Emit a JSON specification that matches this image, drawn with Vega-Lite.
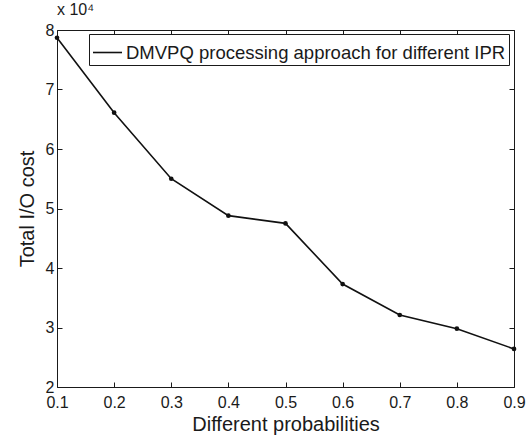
{
  "$schema": "https://vega.github.io/schema/vega-lite/v6.json",
  "autosize": "none",
  "width": 457,
  "height": 357,
  "padding": {"left": 57, "top": 30, "right": 18, "bottom": 50},
  "background": "white",
  "title": {"text": "x 10⁴", "anchor": "start", "frame": "group", "offset": 4, "fontSize": 16, "fontWeight": "normal", "font": "Liberation Sans", "color": "#1a1a1a"},
  "config": {
    "view": {"stroke": "#1a1a1a", "strokeWidth": 1},
    "font": "Liberation Sans",
    "axis": {"domain": false, "grid": false, "labelFlush": false, "labelOverlap": false, "tickColor": "#1a1a1a", "tickSize": -5, "labelColor": "#1a1a1a", "labelFontSize": 16, "titleFontSize": 20, "titleFontWeight": "normal", "titleColor": "#1a1a1a"}
  },
  "data": {"values": [
    {"p": 0.1, "cost": 78700, "series": "DMVPQ processing approach for different IPR"},
    {"p": 0.2, "cost": 66100, "series": "DMVPQ processing approach for different IPR"},
    {"p": 0.3, "cost": 55000, "series": "DMVPQ processing approach for different IPR"},
    {"p": 0.4, "cost": 48800, "series": "DMVPQ processing approach for different IPR"},
    {"p": 0.5, "cost": 47500, "series": "DMVPQ processing approach for different IPR"},
    {"p": 0.6, "cost": 37300, "series": "DMVPQ processing approach for different IPR"},
    {"p": 0.7, "cost": 32100, "series": "DMVPQ processing approach for different IPR"},
    {"p": 0.8, "cost": 29800, "series": "DMVPQ processing approach for different IPR"},
    {"p": 0.9, "cost": 26400, "series": "DMVPQ processing approach for different IPR"}
  ]},
  "layer": [
    {
      "mark": {"type": "line", "strokeWidth": 1.6, "clip": false},
      "encoding": {
        "x": {"field": "p", "type": "quantitative", "scale": {"domain": [0.1, 0.9], "nice": false, "zero": false}, "axis": {"orient": "bottom", "values": [0.1,0.2,0.3,0.4,0.5,0.6,0.7,0.8,0.9], "format": ".1f", "labelPadding": 12, "title": "Different probabilities", "titlePadding": 4}},
        "y": {"field": "cost", "type": "quantitative", "scale": {"domain": [20000, 80000], "nice": false, "zero": false}, "axis": {"orient": "left", "values": [20000,30000,40000,50000,60000,70000,80000], "labelExpr": "datum.value/10000", "labelPadding": 8, "title": "Total I/O cost", "titlePadding": 8}},
        "color": {"field": "series", "type": "nominal", "scale": {"range": ["#111111"]}, "legend": {"title": null, "orient": "none", "legendX": 32, "legendY": 4, "symbolType": "stroke", "symbolSize": 841, "symbolStrokeWidth": 1.6, "labelFontSize": 18.5, "labelLimit": 0, "labelColor": "#1a1a1a", "strokeColor": "#1a1a1a", "fillColor": "white", "padding": 3, "labelOffset": 3}}
      }
    },
    {
      "mark": {"type": "point", "filled": true, "size": 22, "color": "#111111", "opacity": 1, "clip": false},
      "encoding": {
        "x": {"field": "p", "type": "quantitative", "axis": {"orient": "top", "values": [0.1,0.2,0.3,0.4,0.5,0.6,0.7,0.8,0.9], "labels": false, "title": null}},
        "y": {"field": "cost", "type": "quantitative", "axis": {"orient": "right", "values": [20000,30000,40000,50000,60000,70000,80000], "labels": false, "title": null}}
      }
    }
  ],
  "resolve": {"axis": {"x": "independent", "y": "independent"}}
}
